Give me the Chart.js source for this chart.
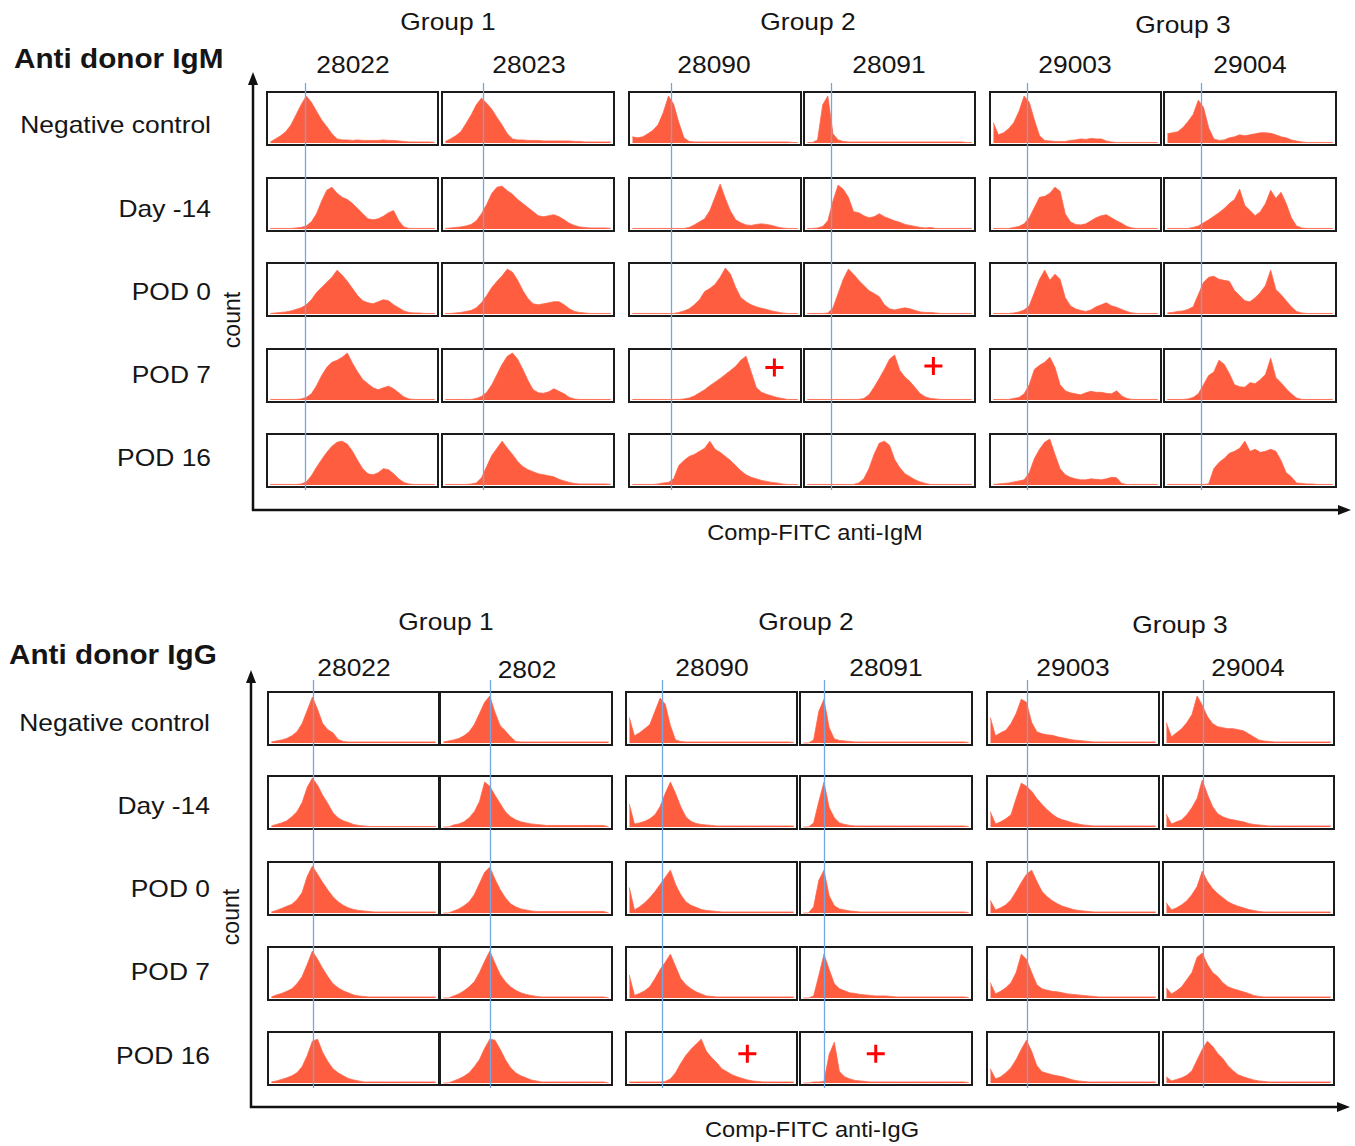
<!DOCTYPE html>
<html>
<head>
<meta charset="utf-8">
<title>Anti donor IgM / IgG</title>
<script src="https://cdn.jsdelivr.net/npm/chart.js@4.4.1/dist/chart.umd.min.js"></script>
<style>
  body { margin: 0; background: #fff; }
  #page { position: relative; width: 1355px; height: 1146px; overflow: hidden;
          font-family: "Liberation Sans", Arial, sans-serif; color: #151515; }
  .txt { position: absolute; white-space: nowrap; line-height: 1; font-size: 24px; }
  .title { font-weight: bold; font-size: 27px; }
  .axis { font-size: 21.5px; }
  svg { position: absolute; left: 0; top: 0; }
</style>
</head>
<body>
<div id="page">
  <svg width="1355" height="1146">
    <g stroke="#111" stroke-width="2.5" fill="#111">
      <line x1="253" y1="511" x2="253" y2="82"/>
      <polygon points="253,72 248,85 258,85" stroke="none"/>
      <line x1="252" y1="510" x2="1340" y2="510"/>
      <polygon points="1351,510 1338,505 1338,515" stroke="none"/>
      <line x1="251" y1="1108" x2="251" y2="681"/>
      <polygon points="251,670 246,683 256,683" stroke="none"/>
      <line x1="250" y1="1107" x2="1339" y2="1107"/>
      <polygon points="1350,1107 1337,1102 1337,1112" stroke="none"/>
    </g>
  </svg>
</div>
<script>
// labels
const rowLabels = ['Negative control', 'Day -14', 'POD 0', 'POD 7', 'POD 16'];
const groupLabels = ['Group 1', 'Group 2', 'Group 3'];
const igmSamples = ['28022', '28023', '28090', '28091', '29003', '29004'];
const iggSamples = ['28022', '2802', '28090', '28091', '29003', '29004'];

// histogram x axis (channel, %) and count axis
const channelMin = -2, channelMax = 102, binWidth = 100 / 32;
const countMin = -4, countMax = 100;

// gate (blue line) per sample column, in channel units
const igmGates = [21.1, 22.8, 23.4, 14.4, 20.5, 20.4];
const iggGates = [25.4, 28.2, 19.8, 12.6, 22.2, 22.3];

// red "+" marks: row, column, channel, count
const igmPositive = [{ row: 3, col: 2, x: 85.9, y: 63.6 }, { row: 3, col: 3, x: 76.7, y: 66.7 }];
const iggPositive = [{ row: 4, col: 2, x: 71.8, y: 57.4 }, { row: 4, col: 3, x: 43.8, y: 57.4 }];

// IgM histograms, one list per time point, one array per sample (33 bins)
const igmNegative = [
  [2,8,14,22,35,55,75,92,80,62,45,32,18,8,6,6,5,6,5,5,5,5,6,5,5,4,3,2,2,2,2,2,1],
  [3,8,14,22,38,55,75,88,78,66,50,35,18,8,6,6,5,5,5,4,4,4,4,4,4,3,3,2,2,2,2,2,2],
  [12,10,12,18,25,36,60,92,76,40,10,3,2,2,2,2,2,2,2,2,2,2,2,2,2,2,2,2,2,2,2,1,1],
  [1,1,6,75,92,18,6,3,2,2,2,2,2,2,2,2,2,2,2,2,2,2,2,2,2,2,2,2,2,2,2,1,1],
  [40,16,20,28,40,62,92,80,45,14,5,4,3,3,3,5,6,8,7,9,8,8,4,2,1,1,1,1,1,1,1,1,1],
  [18,20,22,30,42,56,84,70,30,8,5,6,10,12,16,14,16,18,20,20,19,16,12,10,6,4,2,1,1,1,1,1,1]
];
const igmDay14 = [
  [1,1,1,1,1,2,3,6,14,30,55,76,82,70,62,58,50,40,30,20,18,20,25,32,36,16,4,1,1,1,1,1,1],
  [1,2,3,4,6,9,16,30,48,70,82,84,75,68,58,50,42,34,26,24,26,28,24,18,11,7,4,3,2,2,2,2,1],
  [1,1,1,1,1,1,1,1,1,1,1,3,8,14,20,36,62,88,60,35,18,12,8,7,9,10,9,7,4,2,1,1,1],
  [1,1,2,5,16,55,86,78,62,34,32,26,22,24,30,24,20,16,13,9,7,5,3,2,3,1,1,1,1,1,1,1,1],
  [1,1,1,1,3,5,10,22,42,62,64,70,82,74,30,14,9,8,10,16,22,26,28,22,16,11,5,2,1,1,1,1,1],
  [1,1,1,1,1,3,6,12,18,25,32,40,50,58,78,46,36,26,34,50,76,60,72,50,22,6,2,1,1,1,1,1,1]
];
const igmPod0 = [
  [1,2,3,4,6,9,12,18,28,42,52,62,72,86,76,64,50,36,26,22,20,24,28,26,18,12,6,3,2,2,1,1,1],
  [1,1,2,3,5,7,12,22,36,52,64,75,88,82,66,46,30,20,18,20,22,24,24,18,10,5,3,2,1,1,1,1,1],
  [1,1,1,1,1,1,1,1,1,3,6,10,18,28,44,50,58,72,90,78,52,32,24,18,14,11,9,6,4,2,1,1,1],
  [1,1,1,1,2,12,40,68,88,78,66,56,46,40,34,18,10,8,10,12,10,7,4,3,3,2,1,1,1,1,1,1,1],
  [1,1,1,1,2,4,8,16,42,68,86,66,78,68,32,16,10,7,5,8,14,18,22,16,13,9,5,2,1,1,1,1,1],
  [2,3,5,6,9,14,38,62,72,74,68,66,64,46,36,26,24,32,42,56,86,48,38,26,14,5,2,1,1,1,1,1,1]
];
const igmPod7 = [
  [1,1,1,1,1,1,2,5,12,28,48,64,74,78,84,92,72,55,40,32,24,20,24,27,22,14,6,2,1,1,1,1,1],
  [1,1,1,1,1,1,3,7,15,30,50,70,86,92,80,60,38,20,14,13,16,22,17,12,5,2,1,1,1,1,1,1,1],
  [1,1,1,1,1,1,1,1,1,1,2,4,8,14,20,28,35,42,50,58,66,78,86,55,24,15,11,8,5,3,1,1,1],
  [1,1,1,1,1,1,1,1,1,1,1,3,10,25,42,60,80,88,58,45,36,24,12,6,3,2,1,1,1,1,1,1,1],
  [1,1,1,1,3,5,12,30,60,68,74,84,64,30,18,14,12,10,14,17,15,15,13,12,18,8,3,1,1,1,1,1,1],
  [1,1,1,1,2,5,12,30,48,55,78,70,52,30,26,25,34,32,40,50,82,44,34,22,12,4,1,1,1,1,1,1,1]
];
const igmPod16 = [
  [1,1,1,1,1,1,2,6,18,35,50,64,76,84,86,80,66,48,32,22,20,24,32,30,22,12,5,2,1,1,1,1,1],
  [1,1,1,1,1,2,4,14,36,58,72,86,72,60,46,36,30,26,22,20,18,16,11,8,5,3,2,2,2,2,2,2,1],
  [1,1,1,1,1,2,4,5,12,38,48,56,60,66,72,86,70,64,56,48,38,28,20,15,12,9,7,5,4,2,1,1,1],
  [1,1,1,1,1,1,1,1,1,1,4,12,32,60,82,86,78,50,34,22,16,10,6,3,1,1,1,1,1,1,1,1,1],
  [1,2,3,4,6,8,10,24,52,70,84,90,60,32,20,15,12,10,10,12,11,10,12,15,14,3,1,1,1,1,1,1,1],
  [1,1,1,1,1,1,1,1,2,32,44,52,62,66,72,86,66,70,64,66,70,66,48,24,16,4,3,2,2,1,1,1,1]
];

// IgG histograms
const iggNegative = [
  [2,4,6,9,14,22,38,64,90,66,38,26,20,7,3,2,2,2,2,2,2,2,2,2,2,2,2,2,2,2,2,2,2],
  [2,4,6,9,14,22,36,58,80,92,60,34,24,12,3,2,2,2,2,2,2,2,2,2,2,2,2,2,2,2,2,2,2],
  [50,14,20,28,36,62,88,76,34,6,3,2,2,2,2,2,2,2,2,2,2,2,2,2,2,2,2,2,2,2,2,2,1],
  [0,0,6,62,86,30,8,5,4,3,2,2,2,2,2,2,2,2,2,2,2,2,2,2,2,2,2,2,2,2,2,2,1],
  [50,14,20,25,38,58,86,80,40,22,18,16,15,12,10,8,6,5,4,3,2,2,2,2,2,2,2,2,2,2,2,2,2],
  [40,12,20,28,40,56,92,74,52,38,32,30,28,28,26,24,18,12,6,4,3,2,2,2,2,2,2,2,2,2,2,2,2]
];
const iggDay14 = [
  [2,5,8,12,20,30,48,78,96,82,62,46,28,18,12,9,5,3,2,1,1,1,1,1,1,1,1,1,1,1,1,1,1],
  [0,0,4,6,10,18,30,50,88,80,62,46,30,20,14,10,8,6,5,4,3,3,3,3,3,3,3,3,3,3,3,3,0],
  [45,6,8,11,16,24,40,66,88,66,40,20,11,7,5,4,3,2,2,2,2,2,2,2,2,2,2,2,2,2,2,2,2],
  [0,0,8,50,88,38,18,8,5,3,2,2,2,2,2,2,2,2,2,2,2,2,2,2,2,2,2,2,2,2,2,2,1],
  [30,6,10,16,24,56,86,80,70,56,44,34,25,18,14,11,8,6,4,3,2,2,2,2,2,2,2,2,2,2,2,2,2],
  [25,6,10,14,24,38,56,92,64,40,26,20,16,14,12,10,7,5,4,3,2,2,2,2,2,2,2,2,2,2,2,2,2]
];
const iggPod0 = [
  [2,5,9,13,17,26,40,72,92,76,60,45,32,22,15,10,7,5,4,3,2,2,2,2,2,2,2,2,2,2,2,2,2],
  [0,0,4,8,14,22,36,58,80,90,66,46,30,18,12,8,6,4,3,3,3,3,3,3,3,3,3,3,3,3,3,3,0],
  [50,6,12,20,30,42,56,70,84,56,36,22,15,11,7,5,4,3,2,2,2,2,2,2,2,2,2,2,2,2,2,2,2],
  [0,0,12,64,84,34,14,8,6,4,3,2,2,2,2,2,2,2,2,2,2,2,2,2,2,2,2,2,2,2,2,2,1],
  [25,6,10,16,26,42,60,76,84,62,42,32,24,18,13,10,7,5,4,3,2,2,2,2,2,2,2,2,2,2,2,2,2],
  [20,6,10,16,24,36,52,82,62,48,38,30,22,17,13,10,7,5,3,2,2,2,2,2,2,2,2,2,2,2,2,2,2]
];
const iggPod7 = [
  [2,6,9,13,18,28,42,66,92,76,58,42,28,20,14,10,6,4,3,2,2,2,2,2,2,2,2,2,2,2,2,2,2],
  [0,0,4,8,14,22,32,50,72,92,68,46,32,22,15,10,7,5,3,2,2,2,2,2,2,2,2,2,2,2,2,2,0],
  [45,5,9,14,22,38,56,70,86,62,38,26,18,12,8,4,3,2,2,2,2,2,2,2,2,2,2,2,2,2,2,2,2],
  [0,0,4,44,86,56,28,18,14,10,9,7,6,5,4,4,4,3,2,2,2,2,2,2,2,2,2,2,2,2,2,2,1],
  [30,8,13,20,30,50,86,76,50,26,18,15,13,12,10,8,7,6,5,4,3,2,2,2,2,2,2,2,2,2,2,2,2],
  [20,8,14,22,36,50,80,88,66,50,42,30,22,18,15,12,9,5,3,2,2,2,2,2,2,2,2,2,2,2,2,2,2]
];
const iggPod16 = [
  [2,4,7,10,14,20,32,54,82,86,60,42,28,20,14,9,6,4,2,2,2,2,2,2,2,2,2,2,2,2,2,2,2],
  [0,0,4,8,13,20,32,46,68,86,84,66,46,30,20,14,10,6,4,2,2,2,2,2,2,2,2,2,2,2,2,2,0],
  [2,2,2,2,2,2,2,3,8,20,38,54,66,76,86,62,50,40,28,22,16,12,9,6,4,3,2,2,2,2,2,2,2],
  [0,0,2,2,3,56,80,22,12,8,5,4,3,2,2,2,2,2,2,2,2,2,2,2,2,2,2,2,2,2,2,2,1],
  [28,8,12,20,30,46,66,84,62,34,22,19,16,14,12,9,6,4,3,2,2,2,2,2,2,2,2,2,2,2,2,2,2],
  [12,4,7,10,15,24,45,66,82,72,58,48,34,24,16,12,9,6,4,3,2,2,2,2,2,2,2,2,2,2,2,2,2]
];

const page = document.getElementById('page');

const panels = [
  {
    title: 'Anti donor IgM', titleX: 14, titleY: 59,
    samples: igmSamples, gates: igmGates, positive: igmPositive, xLabel: 'Comp-FITC anti-IgM',
    rows: [igmNegative, igmDay14, igmPod0, igmPod7, igmPod16],
    colLeft: [267, 442, 629, 804, 990, 1164], colWidth: [171, 172, 172, 171, 171, 172],
    rowTop: [92, 178, 263, 349, 434], boxHeight: 53, lineAbove: 9, lineBelow: 3,
    groupX: [448, 808, 1183], groupY: [22, 22, 25],
    sampleX: [353, 529, 714, 889, 1075, 1250], sampleY: [65, 65, 65, 65, 65, 65],
    rowLabelRight: 211, rowLabelY: [125, 209, 292, 375, 458],
    countX: 232, countY: 320, xLabelX: 815, xLabelY: 534
  },
  {
    title: 'Anti donor IgG', titleX: 9, titleY: 655,
    samples: iggSamples, gates: iggGates, positive: iggPositive, xLabel: 'Comp-FITC anti-IgG',
    rows: [iggNegative, iggDay14, iggPod0, iggPod7, iggPod16],
    colLeft: [268, 440, 626, 800, 987, 1163], colWidth: [171, 172, 171, 172, 172, 171],
    rowTop: [692, 776, 862, 947, 1032], boxHeight: 53, lineAbove: 12, lineBelow: 3,
    groupX: [446, 806, 1180], groupY: [622, 622, 625],
    sampleX: [354, 527, 712, 886, 1073, 1248], sampleY: [668, 670, 668, 668, 668, 668],
    rowLabelRight: 210, rowLabelY: [723, 806, 889, 972, 1056],
    countX: 231, countY: 917, xLabelX: 812, xLabelY: 1131
  }
];

function putText(str, x, y, cls, align) {
  const el = document.createElement('div');
  el.className = 'txt ' + (cls || '');
  el.textContent = str;
  el.style.left = x + 'px';
  el.style.top = y + 'px';
  const tx = align === 'left' ? '0' : align === 'right' ? '-100%' : '-50%';
  const ox = align === 'left' ? '0' : align === 'right' ? '100%' : '50%';
  el.style.transformOrigin = ox + ' 50%';
  el.style.transform = `translate(${tx}, -50%) scaleX(1.1)`;
  page.appendChild(el);
  return el;
}

// box frame + gate line for each small histogram
const cellFrame = {
  id: 'cellFrame',
  afterDatasetsDraw(chart, args, opts) {
    const { ctx, chartArea: a, scales } = chart;
    ctx.save();
    ctx.strokeStyle = '#1b1b1b';
    ctx.lineWidth = 2;
    ctx.strokeRect(a.left, a.top, a.right - a.left, a.bottom - a.top);
    const gx = Math.round(scales.x.getPixelForValue(opts.gate)) + 0.5;
    ctx.strokeStyle = '#74a6e4';
    ctx.lineWidth = 1.3;
    ctx.beginPath();
    ctx.moveTo(gx, opts.above == null ? 0 : a.top - opts.above);
    ctx.lineTo(gx, opts.below == null ? chart.height : a.bottom + opts.below);
    ctx.stroke();
    ctx.restore();
  }
};

function drawCell(panel, r, c) {
  const top = panel.rowTop, bh = panel.boxHeight;
  const gapUp = r > 0 ? top[r] - (top[r - 1] + bh) : 0;
  const gapDown = r < top.length - 1 ? top[r + 1] - (top[r] + bh) : 0;
  const padTop = r > 0 ? Math.ceil(gapUp / 2) : panel.lineAbove + 2;
  const padBottom = r < top.length - 1 ? Math.floor(gapDown / 2) : panel.lineBelow + 2;

  const w = panel.colWidth[c] + 4;
  const h = bh + padTop + padBottom;
  const canvas = document.createElement('canvas');
  canvas.width = w;
  canvas.height = h;
  canvas.style.cssText = `position:absolute;left:${panel.colLeft[c] - 2}px;top:${top[r] - padTop}px;width:${w}px;height:${h}px`;
  page.appendChild(canvas);

  const hist = panel.rows[r][c];
  const datasets = [{
    data: hist.map((v, i) => ({ x: i * binWidth, y: v })),
    fill: 'origin',
    backgroundColor: '#ff5d40',
    borderColor: 'rgba(255, 96, 70, 0.75)',
    borderWidth: 1,
    pointRadius: 0,
    tension: 0
  }];
  const marks = panel.positive.filter(p => p.row === r && p.col === c);
  if (marks.length) {
    datasets.push({
      data: marks.map(p => ({ x: p.x, y: p.y })),
      showLine: false,
      pointStyle: 'cross',
      pointRadius: 9,
      borderWidth: 3,
      borderColor: '#ff0000',
      backgroundColor: '#ff0000'
    });
  }

  new Chart(canvas, {
    type: 'line',
    data: { datasets },
    options: {
      responsive: false,
      animation: false,
      devicePixelRatio: 1,
      events: [],
      layout: { autoPadding: false, padding: { left: 2, right: 2, top: padTop, bottom: padBottom } },
      plugins: {
        legend: { display: false },
        tooltip: { enabled: false },
        cellFrame: {
          gate: panel.gates[c],
          above: r === 0 ? panel.lineAbove : null,
          below: r === top.length - 1 ? panel.lineBelow : null
        }
      },
      scales: {
        x: { type: 'linear', min: channelMin, max: channelMax, display: false },
        y: { type: 'linear', min: countMin, max: countMax, display: false }
      }
    },
    plugins: [cellFrame]
  });
}

panels.forEach(panel => {
  putText(panel.title, panel.titleX, panel.titleY, 'title', 'left');
  groupLabels.forEach((g, i) => putText(g, panel.groupX[i], panel.groupY[i], '', 'center'));
  panel.samples.forEach((s, i) => putText(s, panel.sampleX[i], panel.sampleY[i], '', 'center'));
  rowLabels.forEach((l, i) => putText(l, panel.rowLabelRight, panel.rowLabelY[i], '', 'right'));
  putText(panel.xLabel, panel.xLabelX, panel.xLabelY, 'axis', 'center');
  const cnt = putText('count', panel.countX, panel.countY, 'axis', 'center');
  cnt.style.fontSize = '23px';
  cnt.style.transform = 'translate(-50%, -50%) rotate(-90deg)';

  for (let r = 0; r < panel.rows.length; r++) {
    for (let c = 0; c < panel.samples.length; c++) drawCell(panel, r, c);
  }
});
</script>
</body>
</html>
